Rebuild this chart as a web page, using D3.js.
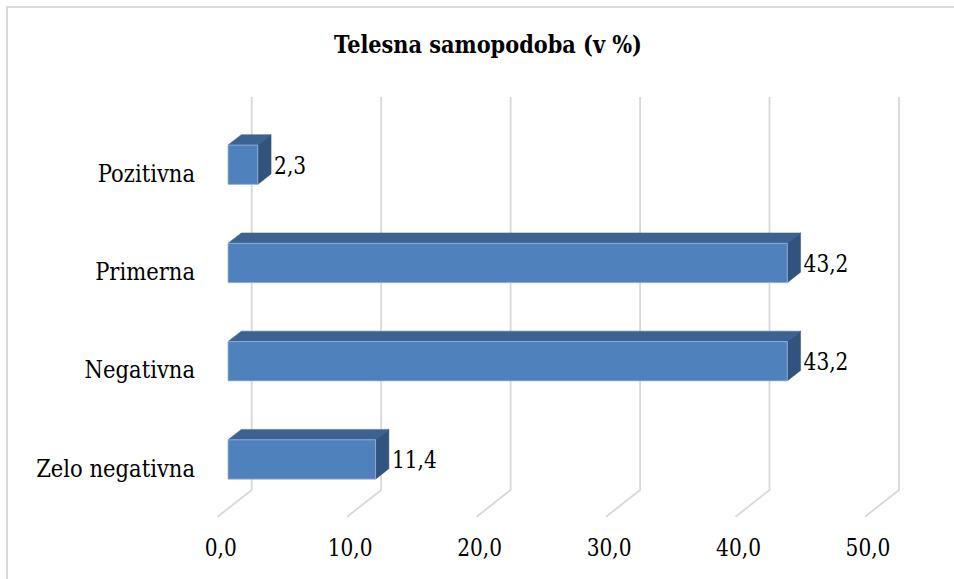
<!DOCTYPE html>
<html>
<head>
<meta charset="utf-8">
<script src="https://cdn.jsdelivr.net/npm/d3@7"></script>
<style>
  html, body { margin: 0; padding: 0; background: #fff; }
  svg { display: block; }
  text { font-family: "DejaVu Serif", serif; fill: #000; }
</style>
</head>
<body>
<svg id="chart" width="954" height="579"></svg>
<script>
// Data
const title = "Telesna samopodoba (v %)";
const categories = ["Pozitivna", "Primerna", "Negativna", "Zelo negativna"];
const values = [2.3, 43.2, 43.2, 11.4];
const tickValues = [0, 10, 20, 30, 40, 50];
const fmt = v => v.toFixed(1).replace(".", ",");

// Text is set in a serif face, narrowed horizontally to a Times-like width
const FONT_SIZE = 24;
const SX_NUM = 0.84, SX_WORD = 0.88, SX_TITLE = 0.87;

const svg = d3.select("#chart");

// Place a label: group translated to the anchor point, then narrowed
function label(parent, px, py, str, anchor, sx, extra) {
  const g = parent.append("g")
    .attr("transform", `translate(${px},${py}) scale(${sx},1)`);
  const t = g.append("text")
    .attr("x", 0).attr("y", 0)
    .attr("text-anchor", anchor)
    .attr("font-size", FONT_SIZE)
    .text(str);
  if (extra) extra(t);
  return t;
}

// Outer frame
svg.append("rect")
  .attr("x", 7).attr("y", 7)
  .attr("width", 1000).attr("height", 1000)
  .attr("fill", "#fff")
  .attr("stroke", "#d9d9d9").attr("stroke-width", 2);

// Back wall geometry and the depth vector pointing to the front of the floor
const x = d3.scaleLinear().domain([0, 50]).range([251.7, 899]);
const y = d3.scaleBand().domain(categories).range([97, 490])
  .paddingInner(0.6).paddingOuter(0.3);
const depth = { dx: -34, dy: 26.7 };
const fFront = 0.697, fBack = 0.306;   // depth slice occupied by the bars
const P = (px, py, f) => [px + f * depth.dx, py + f * depth.dy];

// Gridlines: up the back wall, then across the floor
const grid = svg.append("g");
tickValues.forEach(v => {
  const top = [x(v), 97], bot = [x(v), 490], front = P(x(v), 490, 1);
  grid.append("polyline")
    .attr("points", [top, bot, front].map(p => p.join(",")).join(" "))
    .attr("fill", "none").attr("stroke", "#d9d9d9").attr("stroke-width", 1.8);
});

// X tick labels under the front floor edge
const ticksG = svg.append("g");
tickValues.forEach(v => {
  label(ticksG, P(x(v), 490, 1)[0] + 3, 556, fmt(v), "middle", SX_NUM);
});

// Category labels aligned with the front plane
const catG = svg.append("g");
categories.forEach(c => {
  const cy = P(0, y(c) + y.bandwidth() / 2, 1)[1];
  label(catG, 195, cy + 9, c, "end", SX_WORD);
});

// 3D bars
const poly = pts => pts.map(p => p.join(",")).join(" ");
const bars = svg.append("g");
const valG = svg.append("g");
categories.forEach((c, i) => {
  const v = values[i];
  const y0 = y(c), y1 = y(c) + y.bandwidth();
  const fl = P(x(0), y0, fFront), fr = P(x(v), y0, fFront);
  const frb = P(x(v), y1, fFront), flb = P(x(0), y1, fFront);
  const bl = P(x(0), y0, fBack), br = P(x(v), y0, fBack), brb = P(x(v), y1, fBack);

  // top face
  bars.append("polygon").attr("points", poly([fl, fr, br, bl]))
    .attr("fill", "#3c6291").attr("stroke", "#3c6291").attr("stroke-width", 0.5);
  // right side face
  bars.append("polygon").attr("points", poly([fr, br, brb, frb]))
    .attr("fill", "#31547f").attr("stroke", "#31547f").attr("stroke-width", 0.5);
  // front face
  bars.append("polygon").attr("points", poly([fl, fr, frb, flb]))
    .attr("fill", "#4f81bd").attr("stroke", "#9bb6dc").attr("stroke-width", 0.8);

  // value label just past the back-right edge
  label(valG, br[0] + 3, (fr[1] + frb[1]) / 2 + 9, fmt(v), "start", SX_NUM);
});

// Title
label(svg, 488, 53, title, "middle", SX_TITLE, t => t.attr("font-weight", "bold"));
</script>
</body>
</html>
